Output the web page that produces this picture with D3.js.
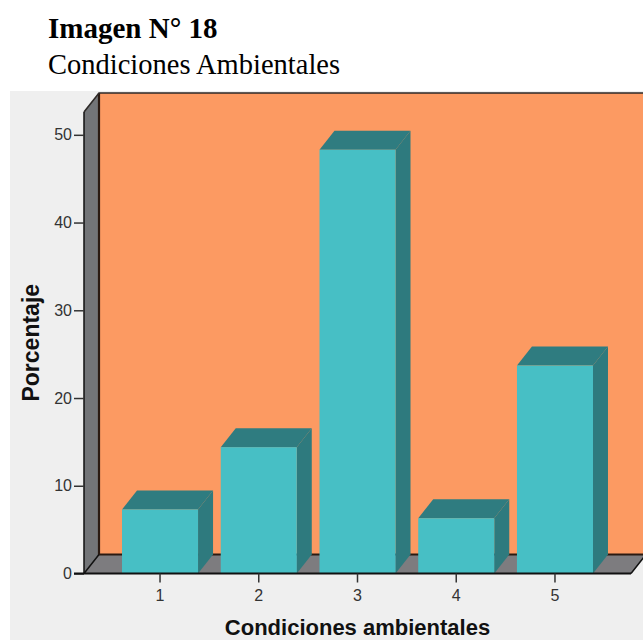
<!DOCTYPE html>
<html>
<head>
<meta charset="utf-8">
<script src="https://cdn.jsdelivr.net/npm/d3@7"></script>
<style>
  html, body { margin: 0; padding: 0; background: #ffffff; }
  svg { display: block; }
</style>
</head>
<body>
<script>
// Categories and percentages for the bar chart
const categories = ["1", "2", "3", "4", "5"];
const percentages = [7.3, 14.4, 48.3, 6.3, 23.7];
const yTicks = [0, 10, 20, 30, 40, 50];

const W = 643, H = 640;
const svg = d3.select("body").append("svg").attr("width", W).attr("height", H);

// Heading
svg.append("text").attr("x", 48).attr("y", 38)
  .attr("font-family", "'Liberation Serif', 'Times New Roman', serif")
  .attr("font-weight", "bold").attr("font-size", 29).attr("fill", "#000")
  .text("Imagen N° 18");
svg.append("text").attr("x", 48).attr("y", 74)
  .attr("font-family", "'Liberation Serif', 'Times New Roman', serif")
  .attr("font-size", 28.5).attr("fill", "#000")
  .text("Condiciones Ambientales");

// Chart panel background
svg.append("rect").attr("x", 10).attr("y", 91).attr("width", W - 10).attr("height", H - 91)
  .attr("fill", "#efefef");

// 3D depth offset
const dx = 15, dy = 19;

const y = d3.scaleLinear().domain([0, 52.6]).range([573.5, 112]);
const x = d3.scaleBand().domain(categories).range([84, 631])
  .paddingInner(0.23).paddingOuter(0.385);

const y0 = y(0), yTop = y(52.6);
const xL = 84, xR = 631;

const g = svg.append("g");

// Back wall
g.append("rect").attr("x", xL + dx).attr("y", yTop - dy)
  .attr("width", xR - xL + 20).attr("height", y0 - yTop)
  .attr("fill", "#fc9a62");
// Left wall
g.append("path")
  .attr("d", `M${xL},${y0}L${xL},${yTop}L${xL + dx},${yTop - dy}L${xL + dx},${y0 - dy}Z`)
  .attr("fill", "#737578");
// Floor
g.append("path")
  .attr("d", `M${xL},${y0}L${xR},${y0}L${xR + dx},${y0 - dy}L${xL + dx},${y0 - dy}Z`)
  .attr("fill", "#7d7c7f");

// Wall edges
g.append("path")
  .attr("d", `M${xL + dx},${yTop - dy}L${xL + dx},${y0 - dy}L${xR + dx + 5},${y0 - dy}`)
  .attr("fill", "none").attr("stroke", "#2a1a12").attr("stroke-width", 2.2);
g.append("path")
  .attr("d", `M${xL},${yTop}L${xL + dx},${yTop - dy}L${W},${yTop - dy}`)
  .attr("fill", "none").attr("stroke", "#2e2a28").attr("stroke-width", 1.6);
g.append("path")
  .attr("d", `M${xL},${y0}L${xL + dx},${y0 - dy}M${xR},${y0}L${xR + dx},${y0 - dy}`)
  .attr("fill", "none").attr("stroke", "#111").attr("stroke-width", 1.5);

// Bars: side face, top face, front face
const data = categories.map((c, i) => ({ c, v: percentages[i] }));
const bw = x.bandwidth();
const bars = g.selectAll("g.bar").data(data).join("g").attr("class", "bar");
bars.append("path")
  .attr("d", d => {
    const x1 = x(d.c) + bw, yt = y(d.v);
    return `M${x1},${y0}L${x1},${yt}L${x1 + dx},${yt - dy}L${x1 + dx},${y0 - dy}Z`;
  })
  .attr("fill", "#2e7a7e");
bars.append("path")
  .attr("d", d => {
    const x0 = x(d.c), x1 = x0 + bw, yt = y(d.v);
    return `M${x0},${yt}L${x0 + dx},${yt - dy}L${x1 + dx},${yt - dy}L${x1},${yt}Z`;
  })
  .attr("fill", "#2f7c80");
bars.append("rect")
  .attr("x", d => x(d.c)).attr("y", d => y(d.v))
  .attr("width", bw).attr("height", d => y0 - y(d.v))
  .attr("fill", "#47bfc5");

// Axes
const yAxis = svg.append("g").attr("transform", `translate(${xL},0)`)
  .call(d3.axisLeft(y).tickValues(yTicks).tickSize(10).tickPadding(2));
yAxis.select(".domain").attr("d", `M0,${yTop}V${y0}`).attr("stroke", "#111").attr("stroke-width", 1.5);

const xAxis = svg.append("g").attr("transform", `translate(0,${y0})`)
  .call(d3.axisBottom(x).tickSize(9).tickPadding(7));
xAxis.select(".domain").attr("d", `M${xL - 10},0H${xR}`).attr("stroke", "#111").attr("stroke-width", 1.8);

svg.selectAll(".tick line").attr("stroke", "#333").attr("stroke-width", 1.5);
svg.selectAll(".tick text")
  .attr("font-family", "'Liberation Sans', Arial, sans-serif")
  .attr("font-size", 16).attr("fill", "#333");

// Axis titles
svg.append("text")
  .attr("transform", `translate(39,${(yTop + y0) / 2}) rotate(-90)`)
  .attr("text-anchor", "middle")
  .attr("font-family", "'Liberation Sans', Arial, sans-serif")
  .attr("font-weight", "bold").attr("font-size", 23).attr("fill", "#111")
  .text("Porcentaje");
svg.append("text")
  .attr("x", (xL + xR) / 2).attr("y", 635)
  .attr("text-anchor", "middle")
  .attr("font-family", "'Liberation Sans', Arial, sans-serif")
  .attr("font-weight", "bold").attr("font-size", 22).attr("fill", "#111")
  .text("Condiciones ambientales");
</script>
</body>
</html>
